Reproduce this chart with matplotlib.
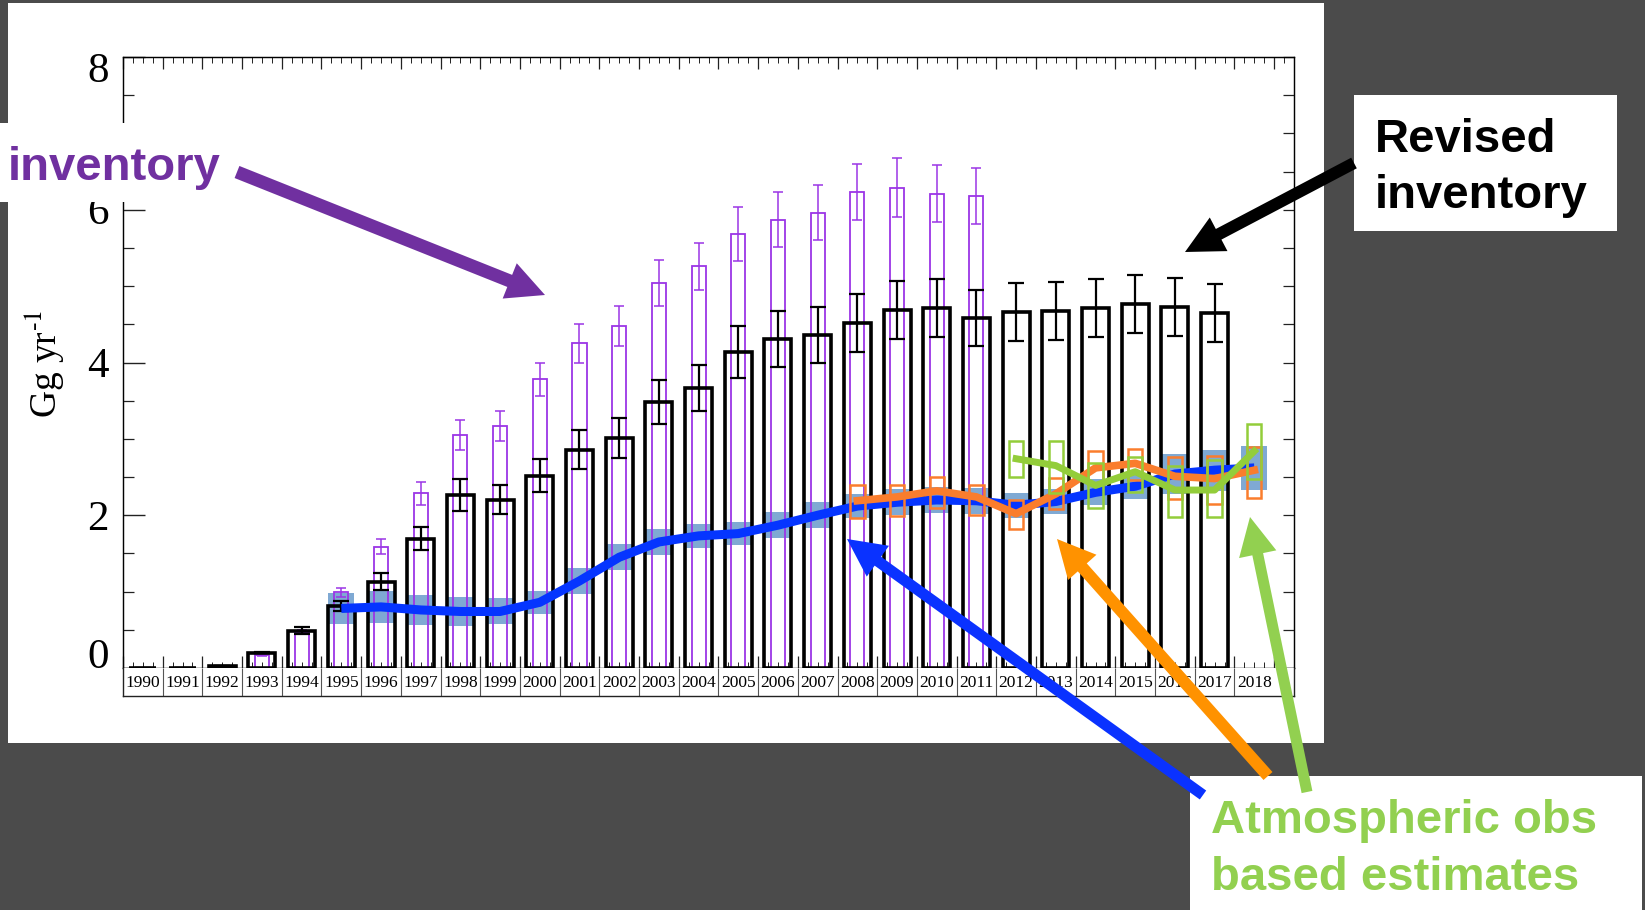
import matplotlib.pyplot as plt
import numpy as np
from matplotlib.patches import Rectangle, FancyArrow
from matplotlib.ticker import MultipleLocator
from matplotlib.transforms import offset_copy

plt.rcParams['mathtext.fontset'] = 'stix'

years = np.arange(1990, 2019)

# revised inventory, 1990-2017
rev_years = np.arange(1990, 2018)
revised = np.array([0.0, 0.0, 0.02, 0.20, 0.49, 0.81, 1.13, 1.69, 2.26, 2.20,
                    2.52, 2.86, 3.01, 3.48, 3.67, 4.14, 4.31, 4.36, 4.52, 4.69,
                    4.71, 4.58, 4.66, 4.68, 4.71, 4.76, 4.73, 4.65])
revised_err = np.array([0, 0, 0, 0.01, 0.05, 0.07, 0.11, 0.15, 0.21, 0.19,
                        0.22, 0.25, 0.26, 0.29, 0.30, 0.34, 0.37, 0.37, 0.38, 0.38,
                        0.38, 0.37, 0.38, 0.38, 0.38, 0.38, 0.38, 0.38])

# original inventory, 1990-2011
orig_years = np.arange(1990, 2012)
original = np.array([0.0, 0.0, 0.03, 0.17, 0.47, 0.99, 1.59, 2.29, 3.05, 3.17,
                     3.78, 4.25, 4.48, 5.04, 5.26, 5.68, 5.87, 5.96, 6.23, 6.29,
                     6.21, 6.18])
original_err = np.array([0, 0, 0, 0.01, 0.03, 0.06, 0.10, 0.15, 0.20, 0.20,
                         0.22, 0.25, 0.26, 0.30, 0.31, 0.35, 0.36, 0.36, 0.37, 0.39,
                         0.37, 0.37])

# inversion estimate with uncertainty band, 1995-2018
blue_years = np.arange(1995, 2019)
blue = np.array([0.78, 0.80, 0.76, 0.74, 0.74, 0.86, 1.14, 1.45, 1.65, 1.73,
                 1.76, 1.87, 2.00, 2.12, 2.17, 2.20, 2.19, 2.13, 2.18, 2.30,
                 2.38, 2.54, 2.59, 2.62])
blue_band = np.array([0.20, 0.21, 0.20, 0.19, 0.17, 0.15, 0.17, 0.17, 0.17, 0.16,
                      0.15, 0.17, 0.17, 0.16, 0.17, 0.17, 0.17, 0.16, 0.17, 0.17,
                      0.17, 0.26, 0.27, 0.29])

# regional estimate, 2008-2018
orange_years = np.arange(2008, 2019)
orange = np.array([2.19, 2.24, 2.32, 2.24, 2.02, 2.28, 2.62, 2.68, 2.51, 2.48, 2.59])
orange_lo = np.array([1.97, 1.99, 2.10, 2.00, 1.82, 2.08, 2.41, 2.46, 2.21, 2.15, 2.23])
orange_hi = np.array([2.39, 2.40, 2.50, 2.40, 2.20, 2.49, 2.84, 2.87, 2.76, 2.77, 2.90])

# second regional estimate, 2012-2018
green_years = np.arange(2012, 2019)
green = np.array([2.74, 2.65, 2.39, 2.57, 2.33, 2.33, 2.84])
green_lo = np.array([2.50, 2.29, 2.10, 2.31, 1.98, 1.98, 2.48])
green_hi = np.array([2.97, 2.97, 2.68, 2.76, 2.65, 2.72, 3.20])

W, H = 1645, 910
BG = '#4b4b4b'
PURPLE = '#9b35e6'
BLUE = '#0535ff'
BAND = '#7fa9d3'
ORANGE = '#fa7d2d'
GREEN = '#93cd3a'
SERIF = 'Liberation Serif'
SANS = 'Liberation Sans'

fig = plt.figure(figsize=(W / 100, H / 100), dpi=100, facecolor=BG)


def px_axes(left, top, right, bottom, **kw):
    return fig.add_axes([left / W, 1 - bottom / H, (right - left) / W, (bottom - top) / H], **kw)


# white slide panel behind the chart
bg = fig.add_axes([0, 0, 1, 1], zorder=0)
bg.set_xlim(0, W)
bg.set_ylim(H, 0)
bg.axis('off')
bg.add_patch(Rectangle((8, 3), 1316, 740, facecolor='white', edgecolor='none'))

x0, x1, ytop, y0, ylab = 123, 1294, 57, 668, 696
xlim = (years[0] - 0.5, years[-1] + 1.0)
ax = px_axes(x0, ytop, x1, y0, zorder=1)
ax.set_xlim(xlim)
ax.set_ylim(0, 8)

ax.bar(blue_years, 2 * blue_band, bottom=blue - blue_band, width=0.66,
       color=BAND, linewidth=0, zorder=1)

ax.bar(orig_years, original, width=0.355, fill=False, edgecolor=PURPLE,
       linewidth=1.3, zorder=2)
ax.errorbar(orig_years, original, yerr=original_err, fmt='none', ecolor=PURPLE,
            elinewidth=1.1, capsize=3.5, capthick=1.1, zorder=2)

ax.bar(rev_years, revised, width=0.68, fill=False, edgecolor='black',
       linewidth=2.6, zorder=3, clip_on=False)
ax.errorbar(rev_years, revised, yerr=revised_err, fmt='none', ecolor='black',
            elinewidth=1.6, capsize=5.5, capthick=1.6, zorder=3)

ax.plot(blue_years, blue, color=BLUE, lw=6.5, zorder=4, solid_capstyle='butt')

ax.bar(orange_years, orange_hi - orange_lo, bottom=orange_lo, width=0.36,
       fill=False, edgecolor=ORANGE, linewidth=1.8, zorder=5)
ax.plot(orange_years, orange, color=ORANGE, lw=5.5, zorder=5)

ax.bar(green_years, green_hi - green_lo, bottom=green_lo, width=0.36,
       fill=False, edgecolor=GREEN, linewidth=1.8, zorder=6)
ax.plot(green_years, green, color=GREEN, lw=5, zorder=6)

edges = np.append(years - 0.5, years[-1] + 0.5)
ax.set_xticks(edges)
ax.xaxis.set_minor_locator(MultipleLocator(0.25))
ax.set_yticks([0, 2, 4, 6, 8])
ax.yaxis.set_minor_locator(MultipleLocator(0.5))
ax.tick_params(axis='x', which='major', direction='in', length=8.5, width=0.9,
               top=True, bottom=True, labelbottom=False, color='#222222')
ax.tick_params(axis='x', which='minor', direction='in', length=4, width=0.7,
               top=True, bottom=True, color='#222222')
ax.tick_params(axis='y', which='major', direction='in', length=16, width=1,
               labelsize=31, pad=10, color='#222222')
ax.tick_params(axis='y', which='minor', direction='in', length=8, width=0.9,
               color='#222222')
for lab in ax.get_yticklabels():
    lab.set_family(SERIF)
# end labels sit inside the axis range
yticks = ax.yaxis.get_major_ticks()
yticks[0].label1.set_va('baseline')
top_lab = yticks[-1].label1
top_lab.set_va('top')
top_lab.set_transform(offset_copy(top_lab.get_transform(), fig=fig, y=5, units='dots'))
for s in ax.spines.values():
    s.set_linewidth(1)
    s.set_color('#222222')

# right-hand ticks are all short
rax = ax.twinx()
rax.set_ylim(0, 8)
rax.yaxis.set_major_locator(MultipleLocator(0.5))
rax.tick_params(axis='y', direction='in', length=8, width=0.9,
                labelright=False, color='#222222')

fig.text(45 / W, 1 - 364 / H, 'Gg yr$^{\\text{-1}}$', rotation=90, ha='center',
         va='center', family=SERIF, fontsize=27)

# year label strip under the axis
lab_ax = px_axes(x0, y0, x1, ylab, zorder=1)
lab_ax.set_xlim(xlim)
lab_ax.set_ylim(0, 1)
lab_ax.set_xticks([])
lab_ax.set_yticks([])
lab_ax.spines['top'].set_visible(False)
for s in ('left', 'right', 'bottom'):
    lab_ax.spines[s].set_linewidth(1)
    lab_ax.spines[s].set_color('#222222')
lab_ax.vlines(edges[1:-1], 0, 1, color='#555555', lw=0.8)
for yr in years:
    lab_ax.text(yr, 0.45, str(yr), ha='center', va='center', family=SERIF,
                fontsize=12.5)

# annotation layer in pixel units
fg = fig.add_axes([0, 0, 1, 1], zorder=5)
fg.set_xlim(0, W)
fg.set_ylim(H, 0)
fg.axis('off')
fg.patch.set_visible(False)

fg.add_patch(Rectangle((0, 123), 228, 79, facecolor='white', edgecolor='none'))
fg.add_patch(Rectangle((1354, 95), 263, 136, facecolor='white', edgecolor='none'))
fg.add_patch(Rectangle((1190, 776), 452, 134, facecolor='white', edgecolor='none'))

fg.text(8, 180, 'inventory', color='#7030a0', fontsize=34, fontweight='bold',
        family=SANS, va='baseline')
fg.text(1375, 152, 'Revised', color='black', fontsize=34, fontweight='bold',
        family=SANS, va='baseline')
fg.text(1375, 208, 'inventory', color='black', fontsize=34, fontweight='bold',
        family=SANS, va='baseline')
fg.text(1211, 833, 'Atmospheric obs', color='#92d050', fontsize=34,
        fontweight='bold', family=SANS, va='baseline')
fg.text(1211, 890, 'based estimates', color='#92d050', fontsize=34,
        fontweight='bold', family=SANS, va='baseline')


def arrow(tail, tip, color, width, head_w=38, head_l=38):
    fg.add_patch(FancyArrow(tail[0], tail[1], tip[0] - tail[0], tip[1] - tail[1],
                            width=width, head_width=head_w, head_length=head_l,
                            length_includes_head=True, color=color, lw=0))


arrow((237, 172), (545, 295), '#7030a0', 13)
arrow((1354, 163), (1185, 252), 'black', 12)
arrow((1203, 795), (847, 539), '#0a32ff', 11)
arrow((1268, 776), (1057, 539), '#ff9200', 12)
arrow((1307, 792), (1250, 517), '#92d050', 11)

fig.savefig('out.png', dpi=100, facecolor=BG)
